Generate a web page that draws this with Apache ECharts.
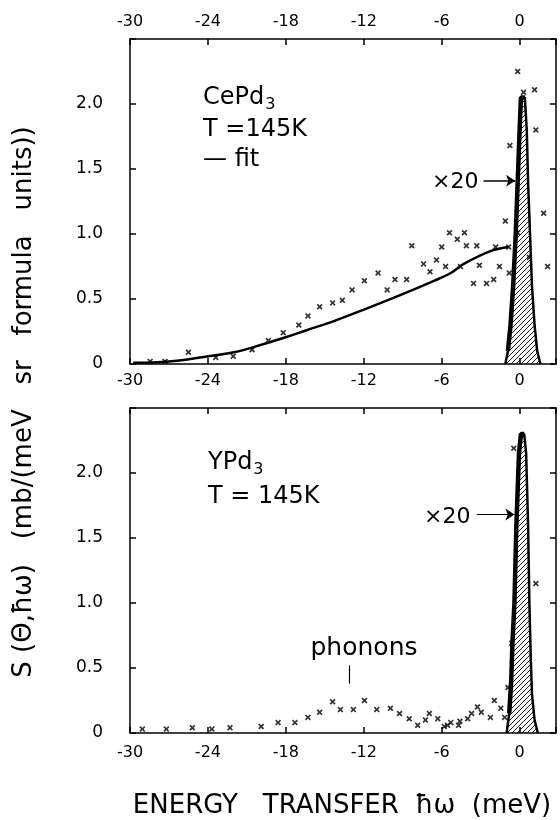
<!DOCTYPE html>
<html><head><meta charset="utf-8">
<script src="https://cdn.jsdelivr.net/npm/echarts@6/dist/echarts.min.js"></script>
<style>html,body{margin:0;background:#fff}#c{width:560px;height:820px}</style>
</head><body><div id="c"></div>
<script>
// ---- data (energy transfer in meV, S in mb/(meV sr f.u.)) ----
const xTickValues = [-30, -24, -18, -12, -6, 0];
const yTickLabels = ['0', '0.5', '1.0', '1.5', '2.0'];

const cePd3Points = [
  [-28.45,0.02],[-27.3,0.02],[-25.5,0.09],[-23.4,0.05],[-22.05,0.06],[-20.6,0.11],
  [-19.35,0.18],[-18.2,0.24],[-17.0,0.30],[-16.3,0.37],[-15.4,0.44],[-14.4,0.47],
  [-13.65,0.49],[-12.9,0.57],[-11.95,0.64],[-10.9,0.70],[-10.2,0.57],[-9.6,0.65],
  [-8.7,0.65],[-8.3,0.91],[-7.4,0.77],[-6.9,0.71],[-6.4,0.80],[-6.0,0.90],
  [-5.7,0.75],[-5.4,1.01],[-4.8,0.96],[-4.25,1.01],[-4.1,0.91],[-4.55,0.75],
  [-3.3,0.91],[-3.1,0.76],[-3.55,0.62],[-2.55,0.62],[-2.0,0.65],[-1.55,0.75],
  [-1.85,0.90],[-0.85,0.90],[-1.1,1.10],[-0.8,0.70],[-0.15,1.01],[0.75,0.82],
  [1.85,1.16],[2.15,0.75],[-0.15,2.25],[0.3,2.09],[1.15,2.11],[1.25,1.80],[-0.75,1.68]
];
const cePd3Fit = [
  [-29.75,0.01],[-27.0,0.02],[-24.6,0.05],[-22.0,0.09],[-20.5,0.13],[-18.2,0.20],
  [-16.4,0.26],[-14.3,0.33],[-11.7,0.43],[-9.2,0.53],[-6.6,0.64],[-5.3,0.70],
  [-4.3,0.77],[-2.2,0.87],[-0.85,0.90]
];
const cePd3Elastic = [
  [-1.1,0.0],[-0.9,0.1],[-0.7,0.3],[-0.5,0.6],[-0.3,1.0],[-0.15,1.4],[0.0,1.8],
  [0.1,2.05],[0.4,2.05],[0.55,1.8],[0.65,1.4],[0.8,1.0],[0.95,0.6],[1.15,0.3],[1.35,0.1],[1.6,0.0]
];

const yPd3Points = [
  [-29.05,0.03],[-27.2,0.03],[-25.2,0.04],[-23.7,0.03],[-22.3,0.04],[-19.9,0.05],
  [-18.6,0.08],[-17.3,0.08],[-16.3,0.12],[-15.4,0.16],[-14.4,0.24],[-13.8,0.18],
  [-12.8,0.18],[-11.95,0.25],[-11.0,0.18],[-9.95,0.19],[-9.25,0.15],[-8.5,0.11],
  [-7.85,0.06],[-7.25,0.10],[-6.95,0.15],[-6.3,0.11],[-5.8,0.05],[-5.55,0.06],
  [-5.3,0.08],[-4.6,0.09],[-4.7,0.06],[-4.0,0.11],[-3.7,0.15],[-3.25,0.20],
  [-2.95,0.16],[-2.25,0.12],[-1.95,0.25],[-1.45,0.19],[-1.15,0.12],[-0.9,0.35],
  [-0.6,0.69],[1.25,1.15],[-0.45,2.19]
];
const yPd3Elastic = [
  [-1.0,0.0],[-0.8,0.15],[-0.65,0.4],[-0.55,0.7],[-0.4,1.0],[-0.25,1.6],[-0.05,2.15],
  [0.1,2.3],[0.35,2.3],[0.5,2.15],[0.65,1.6],[0.75,1.0],[0.85,0.6],[0.95,0.3],[1.15,0.1],[1.4,0.0]
];

// ---- rendering ----
const FONT = 'DejaVu Sans';
function hatch() {
  const c = document.createElement('canvas'); c.width = 5; c.height = 5;
  const g = c.getContext('2d'); g.strokeStyle = '#000'; g.lineWidth = 0.9;
  [[-1,6,6,-1],[-1,1,1,-1],[4,6,6,4]].forEach(s => { g.beginPath(); g.moveTo(s[0],s[1]); g.lineTo(s[2],s[3]); g.stroke(); });
  return c;
}
const hatchFill = { image: hatch(), repeat: 'repeat' };
const crossPath = 'path://M0,2 L2,0 L5,3 L8,0 L10,2 L7,5 L10,8 L8,10 L5,7 L2,10 L0,8 L3,5 Z';

function xAxis(grid, pos, showLabel, margin) {
  return {
    type: 'value', gridIndex: grid, position: pos, min: -30, max: 2.8, interval: 6,
    axisLine: { onZero: false, lineStyle: { color: '#000', width: 1.5 } },
    axisTick: { inside: true, length: 6, lineStyle: { color: '#000', width: 1.5 } },
    splitLine: { show: false },
    axisLabel: { show: showLabel, margin: margin, color: '#000', fontFamily: FONT, fontSize: 16,
      formatter: v => xTickValues.includes(v) ? String(v) : '' }
  };
}
function yAxis(grid, pos, showLabel) {
  return {
    type: 'value', gridIndex: grid, position: pos, min: 0, max: 2.5, interval: 0.5,
    axisLine: { onZero: false, lineStyle: { color: '#000', width: 1.5 } },
    axisTick: { inside: true, length: 6, lineStyle: { color: '#000', width: 1.5 } },
    splitLine: { show: false },
    axisLabel: { show: showLabel, margin: 27, color: '#000', fontFamily: FONT, fontSize: 17,
      formatter: v => { const i = Math.round(v / 0.5); return (Math.abs(v - i*0.5) < 1e-6 && i < yTickLabels.length) ? yTickLabels[i] : ''; } }
  };
}
const txt = (x, y, text, size, align) => ({ type: 'text', x: x, y: y,
  style: { text: text, fill: '#000', font: size + 'px "' + FONT + '"', textAlign: align || 'left', textVerticalAlign: 'middle' } });
const subLabel = (x, y, base) => ({ type: 'text', x: x, y: y, style: {
  rich: { n: { fontSize: 24, fontFamily: FONT, fill: '#000' }, s: { fontSize: 16, fontFamily: FONT, fill: '#000', padding: [14, 0, 0, 1] } },
  text: '{n|' + base + '}{s|3}', textVerticalAlign: 'middle' } });
const edge = (xi, yi, data) => ({ type: 'line', xAxisIndex: xi, yAxisIndex: yi, data: data.slice(1, 9), symbol: 'none', z: 3,
  lineStyle: { color: '#000', width: 4.5 } });

const chart = echarts.init(document.getElementById('c'), null, { renderer: 'canvas' });
chart.setOption({
  animation: false,
  backgroundColor: '#fff',
  grid: [
    { left: 130, right: 4, top: 39, height: 325 },
    { left: 130, right: 4, top: 408, height: 325 }
  ],
  xAxis: [ xAxis(0, 'bottom', true, 9), xAxis(0, 'top', true, 9), xAxis(1, 'bottom', true, 12), xAxis(1, 'top', false, 9) ],
  yAxis: [ yAxis(0, 'left', true), yAxis(0, 'right', false), yAxis(1, 'left', true), yAxis(1, 'right', false) ],
  series: [
    { type: 'line', xAxisIndex: 0, yAxisIndex: 0, data: cePd3Elastic, symbol: 'none', z: 2,
      lineStyle: { color: '#000', width: 2.5 }, areaStyle: { color: hatchFill, opacity: 1 },
      markLine: { silent: true, symbol: ['none', 'arrow'], symbolSize: 9, label: { show: false },
        lineStyle: { color: '#000', width: 1.5, type: 'solid' },
        data: [[{ coord: [-2.78, 1.41] }, { coord: [-0.35, 1.41] }]] } },
    edge(0, 0, cePd3Elastic),
    { type: 'line', xAxisIndex: 0, yAxisIndex: 0, data: cePd3Fit, symbol: 'none', smooth: 0.4, z: 3,
      lineStyle: { color: '#000', width: 2.5 } },
    { type: 'scatter', xAxisIndex: 0, yAxisIndex: 0, data: cePd3Points, symbol: crossPath, symbolSize: 6, z: 4,
      itemStyle: { color: '#000' } },
    { type: 'line', xAxisIndex: 2, yAxisIndex: 2, data: yPd3Elastic, symbol: 'none', z: 2,
      lineStyle: { color: '#000', width: 2.5 }, areaStyle: { color: hatchFill, opacity: 1 },
      markLine: { silent: true, symbol: ['none', 'arrow'], symbolSize: 9, label: { show: false },
        lineStyle: { color: '#000', width: 1.2, type: 'solid' },
        data: [[{ coord: [-3.3, 1.68] }, { coord: [-0.4, 1.68] }]] } },
    edge(2, 2, yPd3Elastic),
    { type: 'scatter', xAxisIndex: 2, yAxisIndex: 2, data: yPd3Points, symbol: crossPath, symbolSize: 6, z: 4,
      itemStyle: { color: '#000' },
      markLine: { silent: true, symbol: ['none', 'none'], label: { show: false },
        lineStyle: { color: '#000', width: 1.2, type: 'solid' },
        data: [[{ coord: [-13.1, 0.38] }, { coord: [-13.1, 0.52] }]] } }
  ],
  graphic: [
    subLabel(203, 98, 'CePd'),
    txt(203, 130, 'T =145K', 24),
    txt(203, 160, '— fit', 24),
    txt(432, 182, '×20', 22),
    subLabel(208, 463, 'YPd'),
    txt(208, 497, 'T = 145K', 24),
    txt(424, 517, '×20', 22),
    txt(364, 648, 'phonons', 25, 'center'),
    txt(342, 806, 'ENERGY   TRANSFER  ħω  (meV)', 26, 'center'),
    { type: 'text', x: 24, y: 402, rotation: Math.PI / 2, style: { text: 'S (Θ,ħω)   (mb/(meV   sr   formula   units))', fill: '#000', font: '26px "' + FONT + '"', textAlign: 'center', textVerticalAlign: 'middle' } }
  ]
});
</script></body></html>
